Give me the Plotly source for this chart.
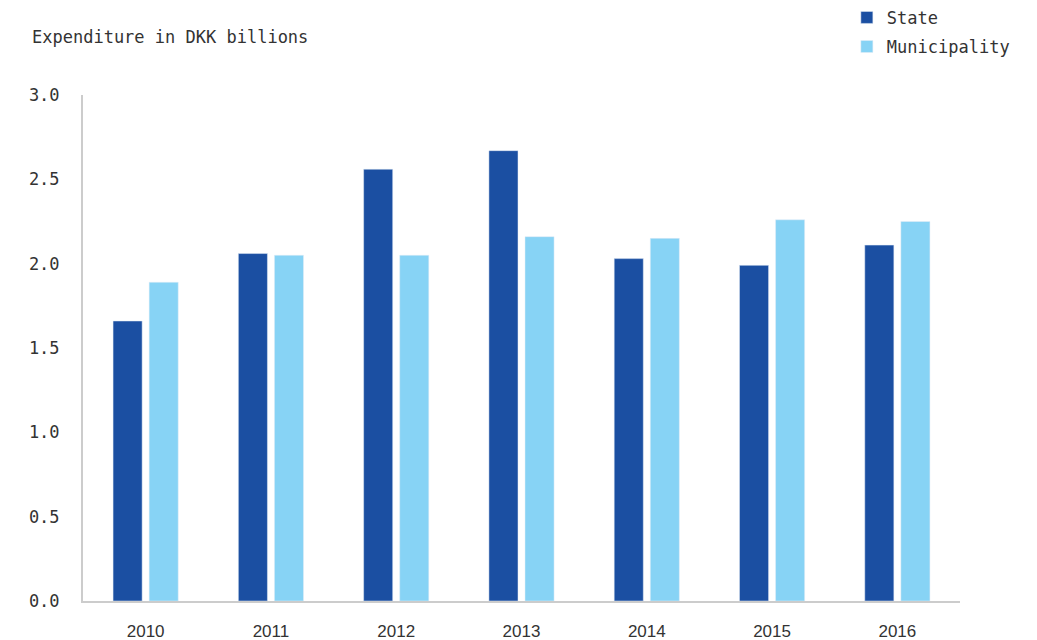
import plotly.graph_objects as go

years = ["2010", "2011", "2012", "2013", "2014", "2015", "2016"]
state = [1.66, 2.06, 2.56, 2.67, 2.03, 1.99, 2.11]
municipality = [1.89, 2.05, 2.05, 2.16, 2.15, 2.26, 2.25]
y_ticks = [0.0, 0.5, 1.0, 1.5, 2.0, 2.5, 3.0]

mono = "DejaVu Sans Mono"
txt = "#333333"

fig = go.Figure()
fig.add_trace(go.Bar(x=years, y=state, name="State", marker_color="#1B4FA2",
                     legendgroup="a"))
fig.add_trace(go.Bar(x=years, y=municipality, name="Municipality", marker_color="#87D3F5",
                     legendgroup="b"))

fig.update_layout(
    width=1037, height=640,
    margin=dict(l=83, r=77, t=95, b=39, autoexpand=False),
    plot_bgcolor="white", paper_bgcolor="white",
    barmode="group", bargap=0.424, bargroupgap=0.194,
    font=dict(family=mono, size=17, color=txt),
    showlegend=True,
    legend=dict(x=0.871, y=1.188, xanchor="left", yanchor="top",
                font=dict(family=mono, size=17, color=txt),
                traceorder="grouped", tracegroupgap=4, itemwidth=30,
                bgcolor="rgba(0,0,0,0)"),
)
fig.add_annotation(text="Expenditure in DKK billions", xref="paper", yref="paper",
                   x=-0.0604, y=1.1146, xanchor="left", yanchor="middle", showarrow=False,
                   font=dict(family=mono, size=17, color=txt))

fig.update_xaxes(showline=True, linecolor="#cccccc", linewidth=2, showgrid=False,
                 ticks="", tickfont=dict(family="Liberation Sans", size=17, color=txt),
                 ticklabelstandoff=14)
fig.update_yaxes(range=[0, 3], tickvals=y_ticks, tickformat=".1f", showline=True,
                 linecolor="#cccccc", linewidth=2, showgrid=False, zeroline=False,
                 ticks="", tickfont=dict(family=mono, size=17, color=txt),
                 ticklabelstandoff=18)

fig.write_html("out.html")
